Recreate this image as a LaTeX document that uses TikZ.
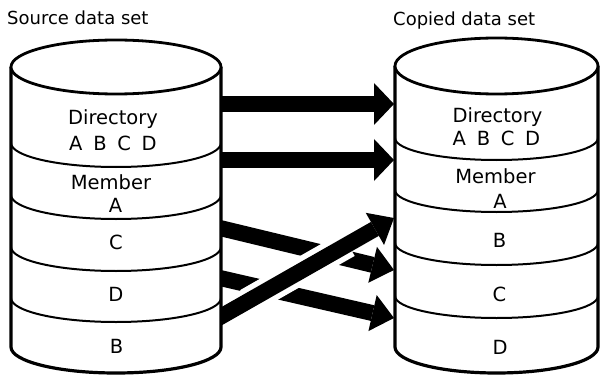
\documentclass[tikz,border=0pt]{standalone}
\usepackage{fontspec}
\setmainfont{DejaVu Sans}
\usetikzlibrary{arrows.meta,calc}
\newcommand{\gapsp}{\hspace{0.55em}}
\begin{document}
\begin{tikzpicture}[x=1pt,y=-1pt,
  lbl/.style={inner sep=0pt, anchor=base, font=\fontsize{19.5}{22}\selectfont},
  ttl/.style={inner sep=0pt, anchor=base west, font=\fontsize{18}{21}\selectfont},
  side/.style={line width=3.2pt},
  rim/.style={line width=2.8pt},
  sep/.style={line width=2pt},
  bigarrow/.style={line width=16pt, -{Triangle[length=20pt,width=42pt,line width=0pt]}},
  slantarrow/.style={line width=16pt, -{Triangle[length=22pt,width=37pt,line width=0pt]}},
]
\useasboundingbox (0,0) rectangle (601,374);

% arrow end points
\coordinate (a1s) at (210,104); \coordinate (a1e) at (394,104);
\coordinate (a2s) at (210,160); \coordinate (a2e) at (394,160);
\coordinate (cs) at (210,225.6); \coordinate (ce) at (394,270);
\coordinate (ds) at (210,275.7); \coordinate (de) at (394,318);
\coordinate (bs) at (210,322.8); \coordinate (be) at (394,218);

% arrows
\draw[bigarrow] (a1s) -- (a1e);
\draw[bigarrow] (a2s) -- (a2e);
\draw[slantarrow] (cs) -- (ce);
\draw[slantarrow] (ds) -- (de);
\draw[white, line width=27pt] ($(bs)!0.2!(be)$) -- ($(bs)!0.75!(be)$);
\draw[slantarrow] (bs) -- (be);

% left cylinder
\fill[white] (11,67) -- (11,347) arc[start angle=180,end angle=0,x radius=105,y radius=26] -- (221,67) -- cycle;
\foreach \yy in {143,195,247,298}
  \draw[sep] (11,\yy) arc[start angle=180,end angle=0,x radius=105,y radius=24];
\draw[side] (11,67) -- (11,347) arc[start angle=180,end angle=0,x radius=105,y radius=26] -- (221,67);
\draw[rim, fill=white] (116,67) ellipse[x radius=105,y radius=27];

% right cylinder
\fill[white] (395,66) -- (395,347) arc[start angle=180,end angle=0,x radius=101.5,y radius=26] -- (598,66) -- cycle;
\foreach \yy in {138,190,243,296}
  \draw[sep] (395,\yy) arc[start angle=180,end angle=0,x radius=101.5,y radius=22];
\draw[side] (395,66) -- (395,347) arc[start angle=180,end angle=0,x radius=101.5,y radius=26] -- (598,66);
\draw[rim, fill=white] (496.5,66) ellipse[x radius=101.5,y radius=28];

% titles
\node[ttl] (srct) at (7,25) {Source data set};
\node[ttl] (cpyt) at (393,26) {Copied data set};

% left labels
\node[lbl] (ldir) at (113,125) {Directory};
\node[lbl] (labcd) at (113,150) {A\gapsp B\gapsp C\gapsp D};
\node[lbl] (lmem) at (111,189) {Member};
\node[lbl] (la) at (115.5,212) {A};
\node[lbl] (lc) at (116,249.5) {C};
\node[lbl] (ld) at (116,301.5) {D};
\node[lbl] (lb) at (116.5,353.5) {B};

% right labels
\node[lbl] (rdir) at (497.5,123) {Directory};
\node[lbl] (rabcd) at (496.5,146) {A\gapsp B\gapsp C\gapsp D};
\node[lbl] (rmem) at (495.5,183) {Member};
\node[lbl] (ra) at (500,208) {A};
\node[lbl] (rb) at (499.5,247.5) {B};
\node[lbl] (rc) at (499.5,301.5) {C};
\node[lbl] (rd) at (500,354.5) {D};
\end{tikzpicture}
\end{document}
